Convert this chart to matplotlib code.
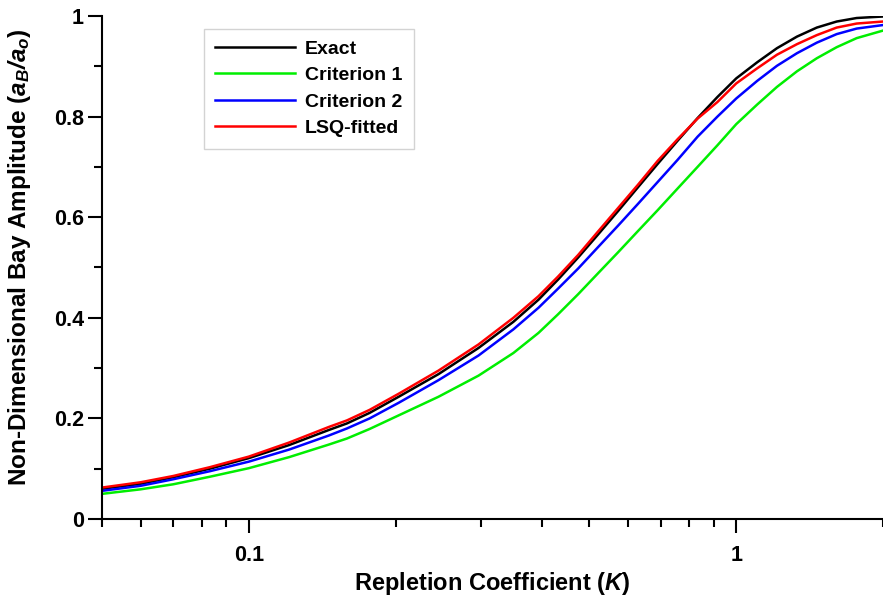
import matplotlib
matplotlib.use('Agg')
import matplotlib.pyplot as plt
from matplotlib.ticker import FixedLocator, FixedFormatter, MultipleLocator, LogLocator, NullFormatter

plt.rcParams['font.family'] = ['Liberation Sans', 'DejaVu Sans']
plt.rcParams['font.weight'] = 'bold'
plt.rcParams['mathtext.fontset'] = 'custom'
plt.rcParams['mathtext.rm'] = 'Liberation Sans:bold'
plt.rcParams['mathtext.it'] = 'Liberation Sans:italic:bold'
plt.rcParams['mathtext.bf'] = 'Liberation Sans:bold'
plt.rcParams['mathtext.bfit'] = 'Liberation Sans:italic:bold'

# values
K = [0.05, 0.06, 0.07, 0.0832, 0.1, 0.121, 0.146, 0.159, 0.177, 0.203, 0.245,
     0.296, 0.349, 0.393, 0.431, 0.474, 0.52, 0.572, 0.628, 0.69, 0.758, 0.833,
     0.915, 1.0, 1.104, 1.212, 1.332, 1.463, 1.607, 1.766, 2.0]

exact = [0.060, 0.070, 0.083, 0.100, 0.121, 0.147, 0.177, 0.190, 0.211, 0.243, 0.288,
         0.340, 0.392, 0.436, 0.476, 0.520, 0.565, 0.612, 0.659, 0.706, 0.752, 0.797,
         0.839, 0.876, 0.908, 0.936, 0.959, 0.977, 0.989, 0.996, 0.999]
crit1 = [0.050, 0.059, 0.069, 0.084, 0.101, 0.123, 0.148, 0.160, 0.179, 0.206, 0.243,
         0.285, 0.330, 0.370, 0.407, 0.447, 0.488, 0.530, 0.572, 0.614, 0.657, 0.700,
         0.743, 0.785, 0.824, 0.859, 0.890, 0.916, 0.938, 0.956, 0.971]
crit2 = [0.056, 0.066, 0.079, 0.095, 0.114, 0.138, 0.166, 0.180, 0.200, 0.231, 0.276,
         0.325, 0.377, 0.420, 0.458, 0.498, 0.540, 0.583, 0.626, 0.670, 0.714, 0.760,
         0.800, 0.836, 0.871, 0.901, 0.926, 0.947, 0.964, 0.975, 0.982]
lsq = [0.0625, 0.073, 0.0855, 0.103, 0.124, 0.152, 0.183, 0.196, 0.217, 0.249, 0.295,
       0.347, 0.400, 0.443, 0.482, 0.525, 0.571, 0.618, 0.664, 0.712, 0.755, 0.796,
       0.829, 0.866, 0.896, 0.923, 0.944, 0.962, 0.977, 0.985, 0.989]

x_ticks = [0.1, 1]
x_labels = ['0.1', '1']
y_ticks = [0, 0.2, 0.4, 0.6, 0.8, 1]
y_labels = ['0', '0.2', '0.4', '0.6', '0.8', '1']

fig = plt.figure(figsize=(8.83, 6.06), dpi=100)
ax = fig.add_axes([102 / 883, 1 - 519 / 606, 1 - 102 / 883, (519 - 16) / 606])

ax.plot(K, exact, color='black', lw=1.8, label='Exact')
ax.plot(K, crit1, color='#00ee00', lw=1.8, label='Criterion 1')
ax.plot(K, crit2, color='#0000ff', lw=1.8, label='Criterion 2')
ax.plot(K, lsq, color='#ff0000', lw=1.8, label='LSQ-fitted')

ax.set_xscale('log')
ax.set_xlim(0.05, 2)
ax.set_ylim(0, 1)

ax.xaxis.set_major_locator(FixedLocator(x_ticks))
ax.xaxis.set_major_formatter(FixedFormatter(x_labels))
ax.xaxis.set_minor_locator(LogLocator(base=10, subs=range(2, 10)))
ax.xaxis.set_minor_formatter(NullFormatter())
ax.yaxis.set_major_locator(FixedLocator(y_ticks))
ax.yaxis.set_major_formatter(FixedFormatter(y_labels))
ax.yaxis.set_minor_locator(MultipleLocator(0.1))

ax.spines['top'].set_visible(False)
ax.spines['right'].set_visible(False)
for s in ['left', 'bottom']:
    ax.spines[s].set_linewidth(1.5)
ax.tick_params(which='major', direction='out', length=10, width=1.5, labelsize=15.5)
ax.tick_params(which='minor', direction='out', length=5.5, width=1.5)
ax.tick_params(axis='x', which='major', pad=9)
ax.tick_params(axis='y', which='major', pad=3)

ax.set_xlabel(r'Repletion Coefficient ($\mathbfit{K}$)', fontsize=17, fontweight='bold', labelpad=2.5)
ax.set_ylabel(r'Non-Dimensional Bay Amplitude ($\mathbfit{a_B/a_o}$)', fontsize=17.5, fontweight='bold')
ax.yaxis.set_label_coords(-0.088, 0.52)

leg = ax.legend(loc='upper left', bbox_to_anchor=(0.13, 0.975), borderaxespad=0,
                handlelength=4.1, handletextpad=0.5, labelspacing=0.45,
                fancybox=False, edgecolor='#c8c8c8', borderpad=0.6,
                prop={'weight': 'bold', 'size': 14})
leg.get_frame().set_linewidth(1.0)

fig.savefig('out.png', dpi=100)
